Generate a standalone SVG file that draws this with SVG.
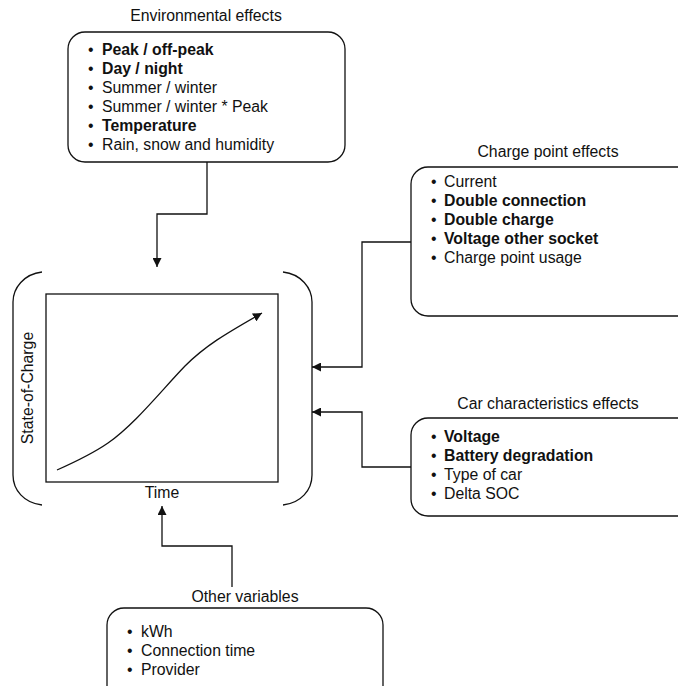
<svg xmlns="http://www.w3.org/2000/svg" width="678" height="686" viewBox="0 0 678 686">
<defs>
<style>
text{font-family:"Liberation Sans",Arial,sans-serif;font-size:15.8px;fill:#111}
.b{font-weight:bold}
.box{fill:#fff;stroke:#111;stroke-width:1.3}
.ln{fill:none;stroke:#111;stroke-width:1.3}
.mid{text-anchor:middle}
</style>
<marker id="ah" viewBox="0 0 10 10" refX="10" refY="5" markerWidth="9" markerHeight="9" markerUnits="userSpaceOnUse" orient="auto"><path d="M0,0L10,5L0,10z" fill="#111"/></marker>
</defs>
<rect width="678" height="686" fill="#fff"/>

<g id="connectors">
<path class="ln" d="M207,162V214H157V267" marker-end="url(#ah)"/>
<path class="ln" d="M411,242H362V367H312" marker-end="url(#ah)"/>
<path class="ln" d="M411,467H362V412H312" marker-end="url(#ah)"/>
<path class="ln" d="M232,587V546H162V506" marker-end="url(#ah)"/>
</g>

<g id="environmental">
<text class="mid" x="206" y="21">Environmental effects</text>
<rect class="box" x="68" y="32" width="277" height="130" rx="17"/>
<text x="88" y="55">•</text><text class="b" x="102" y="55">Peak / off-peak</text>
<text x="88" y="74">•</text><text class="b" x="102" y="74">Day / night</text>
<text x="88" y="93">•</text><text x="102" y="93">Summer / winter</text>
<text x="88" y="112">•</text><text x="102" y="112">Summer / winter * Peak</text>
<text x="88" y="131">•</text><text class="b" x="102" y="131">Temperature</text>
<text x="88" y="150">•</text><text x="102" y="150">Rain, snow and humidity</text>
</g>

<g id="chargepoint">
<text class="mid" x="548" y="157">Charge point effects</text>
<rect class="box" x="411" y="167" width="290" height="149" rx="17"/>
<text x="431" y="187">•</text><text x="444" y="187">Current</text>
<text x="431" y="206">•</text><text class="b" x="444" y="206">Double connection</text>
<text x="431" y="225">•</text><text class="b" x="444" y="225">Double charge</text>
<text x="431" y="244">•</text><text class="b" x="444" y="244">Voltage other socket</text>
<text x="431" y="263">•</text><text x="444" y="263">Charge point usage</text>
</g>

<g id="car">
<text class="mid" x="548" y="409">Car characteristics effects</text>
<rect class="box" x="411" y="418" width="290" height="98" rx="17"/>
<text x="431" y="442">•</text><text class="b" x="444" y="442">Voltage</text>
<text x="431" y="461">•</text><text class="b" x="444" y="461">Battery degradation</text>
<text x="431" y="480">•</text><text x="444" y="480">Type of car</text>
<text x="431" y="499">•</text><text x="444" y="499">Delta SOC</text>
</g>

<g id="other">
<text class="mid" x="245" y="602">Other variables</text>
<rect class="box" x="107" y="608" width="276" height="100" rx="17"/>
<text x="127" y="637">•</text><text x="141" y="637">kWh</text>
<text x="127" y="656">•</text><text x="141" y="656">Connection time</text>
<text x="127" y="675">•</text><text x="141" y="675">Provider</text>
</g>

<g id="soc">
<path class="ln" d="M42,272C24,274 13,288 13,302V475C13,490 24,503 42,505"/>
<path class="ln" d="M283,272C301,274 312,288 312,302V475C312,490 301,503 283,505"/>
<rect class="ln" x="46" y="294" width="232" height="188"/>
<path class="ln" d="M57,470C75,462 95,452 108,443C135,424 160,392 185,366C205,346 225,334 262,313" marker-end="url(#ah)"/>
<text class="mid" x="162" y="498">Time</text>
<text class="mid" transform="translate(33,388) rotate(-90)">State-of-Charge</text>
</g>
</svg>
